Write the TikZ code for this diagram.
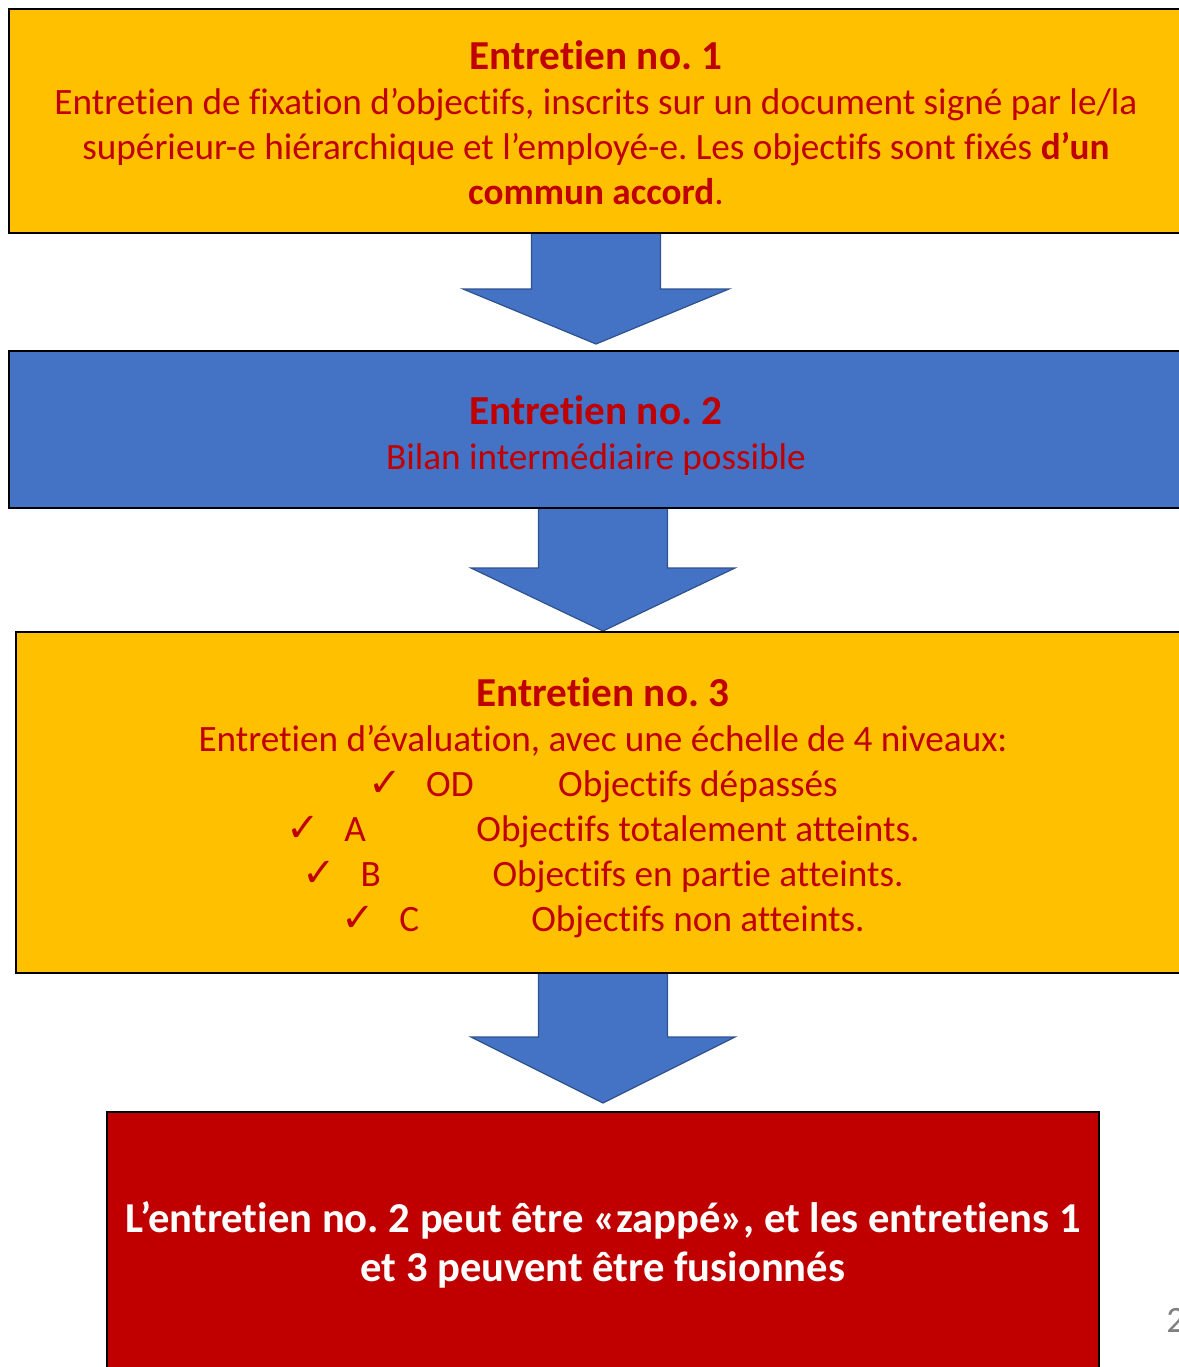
\documentclass[tikz,border=0pt]{standalone}
\usepackage{fontspec}
\setmainfont{Carlito}[Ligatures=NoCommon]
\newfontfamily\symfont{DejaVu Sans}
\frenchspacing
\definecolor{stageyellow}{HTML}{FFC000}
\definecolor{stageblue}{HTML}{4472C4}
\definecolor{stagered}{HTML}{C00000}
\definecolor{arrowedge}{HTML}{2F528F}
\newcommand\bodysize{\fontsize{18.6}{22.5}\selectfont}
\newcommand\headline[2][20pt]{{\bfseries\fontsize{20.6}{22.5}\selectfont\rule{0pt}{#1}#2}}
\newcommand\levelrow[2]{\makebox[29pt][l]{\symfont\fontsize{20}{22.5}\selectfont ✓}\makebox[66pt][l]{#1}#2}
\begin{document}
\begin{tikzpicture}[x=0.5pt,y=-0.5pt,
		stage/.style={draw=black,line width=1.2pt,align=center,inner sep=0pt,
			text=stagered,font=\bodysize},
		blockarrow/.style={fill=stageblue,draw=arrowedge,line width=0.6pt}]
		\useasboundingbox (0,0) rectangle (1179,1367);
		% arrows between the stages
		\coordinate (a1) at (596,233);
		\coordinate (a2) at (603,505);
		\coordinate (a3) at (603,973);
		\draw[blockarrow] (a1) ++(-64.5,0) -- ++(0,56) -- ++(-68.5,0) -- ++(133,55)
			-- ++(133,-55) -- ++(-68.5,0) -- ++(0,-56) -- cycle;
		\draw[blockarrow] (a2) ++(-64.5,0) -- ++(0,63) -- ++(-67.5,0) -- ++(132,63)
			-- ++(132,-63) -- ++(-67.5,0) -- ++(0,-63) -- cycle;
		\draw[blockarrow] (a3) ++(-64.5,0) -- ++(0,64) -- ++(-67.5,0) -- ++(132,66)
			-- ++(132,-66) -- ++(-67.5,0) -- ++(0,-64) -- cycle;
		% stages
		\node[stage,fill=stageyellow,minimum width=587pt,minimum height=112pt] (box1) at (596,121)
			{\headline[16.5pt]{Entretien no. 1}\\
			Entretien de fixation d’objectifs, inscrits sur un document signé par le/la\\
			supérieur-e hiérarchique et l’employé-e. Les objectifs sont fixés \textbf{d’un}\\
			\textbf{commun accord}.};
		\node[stage,fill=stageblue,minimum width=587pt,minimum height=78.5pt] (box2) at (596,429.5)
			{\headline{Entretien no. 2}\\
			Bilan intermédiaire possible};
		\node[stage,fill=stageyellow,minimum width=587pt,minimum height=170.5pt] (box3) at (603,802.5)
			{\headline{Entretien no. 3}\\
			Entretien d’évaluation, avec une échelle de 4 niveaux:\\
			\levelrow{OD}{Objectifs dépassés}\\
			\levelrow{A}{Objectifs totalement atteints.}\\
			\levelrow{B}{Objectifs en partie atteints.}\\
			\levelrow{C}{Objectifs non atteints.}};
		\node[stage,fill=stagered,text=white,font=\bfseries\fontsize{21.3}{24.5}\selectfont,
			minimum width=496pt,minimum height=131pt] (box4) at (603,1243)
			{\rule{0pt}{17pt}L’entretien no. 2 peut être «zappé», et les entretiens 1\\
			et 3 peuvent être fusionnés};
		% page number
		\node[anchor=west,text=gray,font=\bodysize,inner sep=0pt] (page) at (1166,1320) {2};
	\end{tikzpicture}
\end{document}
